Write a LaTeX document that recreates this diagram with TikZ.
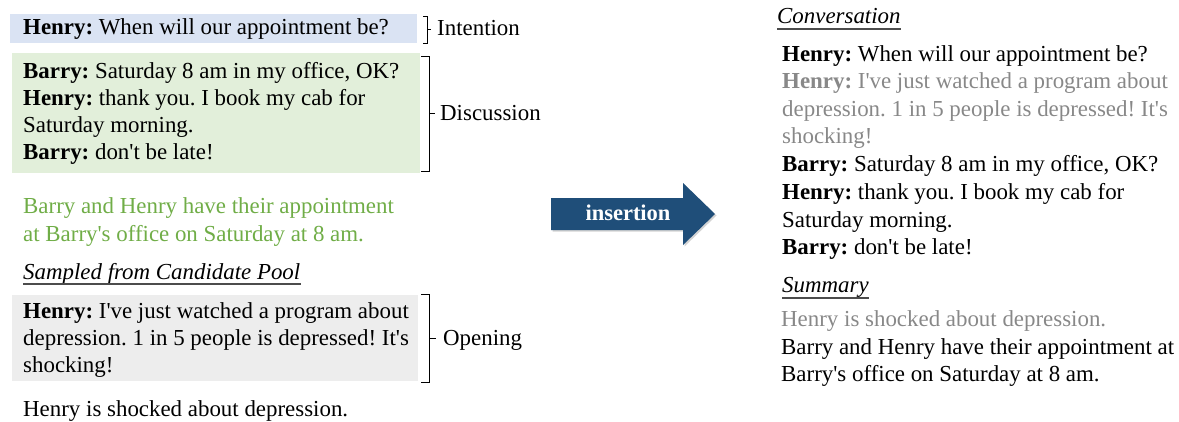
\documentclass[tikz,border=0pt]{standalone}
\usepackage{fontspec}
\setmainfont{Liberation Serif}
\usetikzlibrary{shadows}
\definecolor{boxblue}{RGB}{218,227,243}
\definecolor{boxgreen}{RGB}{226,239,218}
\definecolor{boxgray}{RGB}{237,237,237}
\definecolor{sumgreen}{RGB}{112,173,71}
\definecolor{instgray}{RGB}{136,136,136}
\definecolor{arrowblue}{RGB}{31,78,121}
\newcommand{\sq}{\textquotesingle}
\frenchspacing
\begin{document}
\frenchspacing
\begin{tikzpicture}[x=1pt,y=-1pt,
  txt/.style={anchor=base west, inner sep=0pt, font=\fontsize{22.9}{27}\selectfont},
  ins/.style={txt, text=instgray},
  grn/.style={txt, text=sumgreen},
  brk/.style={line width=1pt, black},
  uline/.style={line width=1.2pt, black!70}]
\useasboundingbox (0,0) rectangle (1179,421);
% boxes
\fill[boxblue] (10,14) rectangle (417,43);
\fill[boxgreen] (12,53) rectangle (420,173);
\fill[boxgray] (12,295) rectangle (418,381);
% left texts
\node[txt] (l1) at (23,34) {\textbf{Henry:} When will our appointment be?};
\node[txt] (l2) at (23,78) {\textbf{Barry:} Saturday 8 am in my office, OK?};
\node[txt] (l3) at (23,105) {\textbf{Henry:} thank you. I book my cab for};
\node[txt] (l4) at (23,132) {Saturday morning.};
\node[txt] (l5) at (23,159) {\textbf{Barry:} don\sq t be late!};
\node[grn] (g1) at (23,213) {Barry and Henry have their appointment};
\node[grn] (g2) at (23,241) {at Barry\sq s office on Saturday at 8 am.};
\node[txt] (samp) at (23,279) {\itshape Sampled from Candidate Pool};
\draw[uline] ([yshift=-5pt]samp.base west) -- ([yshift=-5pt]samp.base east);
\node[txt] (o1) at (23,318) {\textbf{Henry:} I\sq ve just watched a program about};
\node[txt] (o2) at (23,345) {depression. 1 in 5 people is depressed! It\sq s};
\node[txt] (o3) at (23,372) {shocking!};
\node[txt] (os) at (23,416) {Henry is shocked about depression.};
% brackets
\draw[brk] (423,16) -- (427,16) -- (427,43) -- (423,43) (427,29.5) -- (431,29.5);
\node[txt] (intl) at (437,35) {Intention};
\draw[brk] (421,56) -- (429,56) -- (429,171) -- (421,171) (429,113) -- (435,113);
\node[txt] (disl) at (440,120) {Discussion};
\draw[brk] (421,294) -- (429,294) -- (429,382) -- (421,382) (429,338) -- (436,338);
\node[txt] (opl) at (443,345) {Opening};
% arrow
\fill[arrowblue, drop shadow={shadow xshift=1.5pt, shadow yshift=-1.5pt, opacity=0.35}]
  (551,198) -- (683,198) -- (683,183) -- (715,214) -- (683,245) -- (683,230) -- (551,230) -- cycle;
\node[anchor=base, inner sep=0pt, text=white, font=\fontsize{22.5}{27}\selectfont\bfseries] (arrl) at (628,220) {insertion};
% right side
\node[txt] (conv) at (777,23) {\itshape Conversation};
\draw[uline] ([yshift=-6pt]conv.base west) -- ([yshift=-6pt]conv.base east);
\node[txt] (r1) at (782,61) {\textbf{Henry:} When will our appointment be?};
\node[ins] (r2) at (782,88) {\textbf{Henry:} I\sq ve just watched a program about};
\node[ins] (r3) at (782,116) {depression. 1 in 5 people is depressed! It\sq s};
\node[ins] (r4) at (782,143) {shocking!};
\node[txt] (r5) at (782,171) {\textbf{Barry:} Saturday 8 am in my office, OK?};
\node[txt] (r6) at (782,199) {\textbf{Henry:} thank you. I book my cab for};
\node[txt] (r7) at (782,227) {Saturday morning.};
\node[txt] (r8) at (782,254) {\textbf{Barry:} don\sq t be late!};
\node[txt] (summ) at (782,292) {\itshape Summary};
\draw[uline] ([yshift=-6pt]summ.base west) -- ([yshift=-6pt]summ.base east);
\node[ins] (s1) at (781,326) {Henry is shocked about depression.};
\node[txt] (s2) at (781,354) {Barry and Henry have their appointment at};
\node[txt] (s3) at (781,381) {Barry\sq s office on Saturday at 8 am.};
\end{tikzpicture}
\end{document}
